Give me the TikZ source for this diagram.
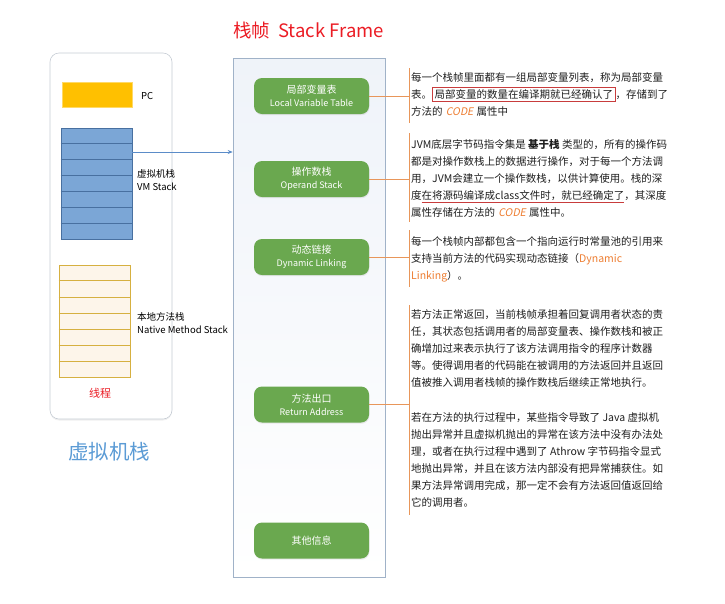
\documentclass[tikz,border=0pt]{standalone}
\usepackage{fontspec}
\setmainfont{Noto Sans CJK SC}
\newfontfamily\slantfont[FakeSlant=0.2]{Noto Sans CJK SC}
\usetikzlibrary{arrows.meta, calc, shadows}
\definecolor{threadGray}{RGB}{198,204,212}
\definecolor{frameBlue}{RGB}{160,178,200}
\definecolor{frameTop}{RGB}{239,243,249}
\definecolor{itemGreen}{RGB}{106,168,79}
\definecolor{pcGold}{RGB}{255,192,0}
\definecolor{vmFill}{RGB}{123,166,214}
\definecolor{vmEdge}{RGB}{72,112,160}
\definecolor{nativeFill}{RGB}{253,245,234}
\definecolor{nativeEdge}{RGB}{214,176,64}
\definecolor{linkOrange}{RGB}{232,150,90}
\definecolor{codeOrange}{RGB}{237,125,49}
\definecolor{titleRed}{RGB}{235,28,36}
\definecolor{boxRed}{RGB}{200,60,60}
\definecolor{arrBlue}{RGB}{91,140,200}
\definecolor{bigBlue}{RGB}{91,155,213}
\definecolor{noteText}{RGB}{30,30,30}
\newcommand\slantcode[1]{\hspace{0.3em}{\slantfont\color{codeOrange}#1}\hspace{0.3em}}
\newcommand\orng[1]{{\color{codeOrange}#1}}
\newcommand\redbox[1]{{\setlength\fboxsep{1.8pt}\setlength\fboxrule{0.7pt}\fcolorbox{boxRed}{white}{#1}}}
\newcommand\redline[1]{\setbox0=\hbox{#1}\rlap{\color{boxRed}\rule[-3pt]{\wd0}{0.7pt}}\box0}
\tikzset{
  sf/thread/.style={rectangle, rounded corners=9pt, draw=threadGray, fill=white,
    line width=0.6pt, minimum width=122pt, minimum height=366pt,
    drop shadow={opacity=0.12, shadow xshift=0pt, shadow yshift=-1.5pt}},
  sf/frame/.style={rectangle, draw=frameBlue, top color=frameTop, bottom color=white,
    line width=0.6pt, minimum width=152pt, minimum height=519pt},
  sf/item/.style={rectangle, rounded corners=8pt, fill=itemGreen,
    minimum width=115pt, minimum height=36pt, inner sep=0pt, align=center,
    font=\fontsize{10}{13}\selectfont\color{white},
    drop shadow={opacity=0.15, shadow xshift=0.5pt, shadow yshift=-1.2pt}},
  sf/pc/.style={rectangle, draw=pcGold!60, fill=pcGold, line width=0.5pt,
    minimum width=70pt, minimum height=25pt},
  sf/vm/.style={rectangle, draw=vmEdge, fill=vmFill, line width=0.6pt,
    minimum width=71pt, minimum height=111pt},
  sf/native/.style={rectangle, draw=nativeEdge, fill=nativeFill, line width=0.6pt,
    minimum width=71pt, minimum height=112pt},
  sf/lbl/.style={anchor=west, align=left, inner sep=0pt,
    font=\fontsize{9.5}{13}\selectfont},
  sf/note/.style={anchor=north west, align=left, inner sep=0pt,
    font=\fontsize{10.5}{17}\selectfont, text=noteText},
  sf/link/.style={draw=linkOrange, line width=0.7pt},
  sf/arr/.style={-{Stealth[length=5pt,width=4pt]}, draw=arrBlue, line width=0.6pt}
}
\begin{document}
\begin{tikzpicture}[x=1pt, y=-1pt]
  \useasboundingbox (0,0) rectangle (725,603);

  % thread (left)
  \node[sf/thread] (thread) at (111,236) {};
  \node[sf/pc]     (pc)      at (97,95) {};
  \node[sf/vm]     (vmstack) at (96.5,183.5) {};
  \node[sf/native] (native)  at (94.5,321) {};
  \foreach \k in {1,...,6} {
    \draw[vmEdge, line width=0.6pt]
      ($(vmstack.north west)!\k/7!(vmstack.south west)$) --
      ($(vmstack.north east)!\k/7!(vmstack.south east)$);
    \draw[nativeEdge, line width=0.6pt]
      ($(native.north west)!\k/7!(native.south west)$) --
      ($(native.north east)!\k/7!(native.south east)$);
  }
  \node[sf/lbl] (pclbl)     at (141,96)    {PC};
  \node[sf/lbl] (vmlbl)     at (137,180.5) {虚拟机栈\\VM Stack};
  \node[sf/lbl] (nativelbl) at (137,323.5) {本地方法栈\\Native Method Stack};
  \node[font=\fontsize{11}{13}\selectfont, text=titleRed] (threadlbl) at (100,393) {线程};
  \node[font=\fontsize{20.5}{24}\selectfont, text=bigBlue] (vmtitle) at (109,452) {虚拟机栈};

  % stack frame
  \node[font=\fontsize{18.5}{22}\selectfont, text=titleRed] (sftitle) at (308.5,30)
        {栈帧\hspace{0.45em}Stack Frame};
  \node[sf/frame] (frame) at (309,317.5) {};
  \node[sf/item] (lvt)     at (311.5,96)    {局部变量表\\\fontsize{9}{13}\selectfont Local Variable Table};
  \node[sf/item] (opstack) at (311.5,179)   {操作数栈\\\fontsize{9}{13}\selectfont Operand Stack};
  \node[sf/item] (dynlink) at (311.5,257)   {动态链接\\\fontsize{9}{13}\selectfont Dynamic Linking};
  \node[sf/item] (retaddr) at (311.5,404.5) {方法出口\\\fontsize{9}{13}\selectfont Return Address};
  \node[sf/item] (other)   at (311.5,540.5) {其他信息};

  \coordinate (vmout) at (132,152);
  \draw[sf/arr] (vmout) -- (vmout -| frame.west);

  % notes
  \node[sf/note] (note1) at (411,72.5) {%
    每一个栈帧里面都有一组局部变量列表，称为局部变量\\
    表。\redbox{局部变量的数量在编译期就已经确认了}，存储到了\\
    方法的\slantcode{CODE}属性中};
  \node[sf/note] (note2) at (411,139.5) {%
    JVM底层字节码指令集是 \textbf{基于栈} 类型的，所有的操作码\\
    都是对操作数栈上的数据进行操作，对于每一个方法调\\
    用，JVM会建立一个操作数栈，以供计算使用。栈的深\\
    度\redline{在将源码编译成class文件时，就已经确定了}，其深度\\
    属性存储在方法的\slantcode{CODE}属性中。};
  \node[sf/note] (note3) at (411,236.5) {%
    每一个栈帧内部都包含一个指向运行时常量池的引用来\\
    支持当前方法的代码实现动态链接（\orng{Dynamic}\\
    \orng{Linking}）。};
  \node[sf/note] (note4) at (411,309.5) {%
    若方法正常返回，当前栈帧承担着回复调用者状态的责\\
    任，其状态包括调用者的局部变量表、操作数栈和被正\\
    确增加过来表示执行了该方法调用指令的程序计数器\\
    等。使得调用者的代码能在被调用的方法返回并且返回\\
    值被推入调用者栈帧的操作数栈后继续正常地执行。};
  \node[sf/note] (note5) at (411,412.5) {%
    若在方法的执行过程中，某些指令导致了 Java 虚拟机\\
    抛出异常并且虚拟机抛出的异常在该方法中没有办法处\\
    理，或者在执行过程中遇到了 Athrow 字节码指令显式\\
    地抛出异常，并且在该方法内部没有把异常捕获住。如\\
    果方法异常调用完成，那一定不会有方法返回值返回给\\
    它的调用者。};

  % brackets
  \coordinate (br1t) at (409,68);  \coordinate (br1b) at (409,123);
  \coordinate (br2t) at (409,133); \coordinate (br2b) at (409,222);
  \coordinate (br3t) at (409,230); \coordinate (br3b) at (409,287);
  \coordinate (br4t) at (409,305); \coordinate (br4b) at (409,515);
  \draw[sf/link] (br1t) -- (br1b);
  \draw[sf/link] (br2t) -- (br2b);
  \draw[sf/link] (br3t) -- (br3b);
  \draw[sf/link] (br4t) -- (br4b);
  \draw[sf/link] (lvt.east)     -- (lvt.east -| br1t);
  \draw[sf/link] (opstack.east) -- (opstack.east -| br2t);
  \draw[sf/link] (dynlink.east) -- (dynlink.east -| br3t);
  \draw[sf/link] (retaddr.east) -- (retaddr.east -| br4t);
\end{tikzpicture}
\end{document}
